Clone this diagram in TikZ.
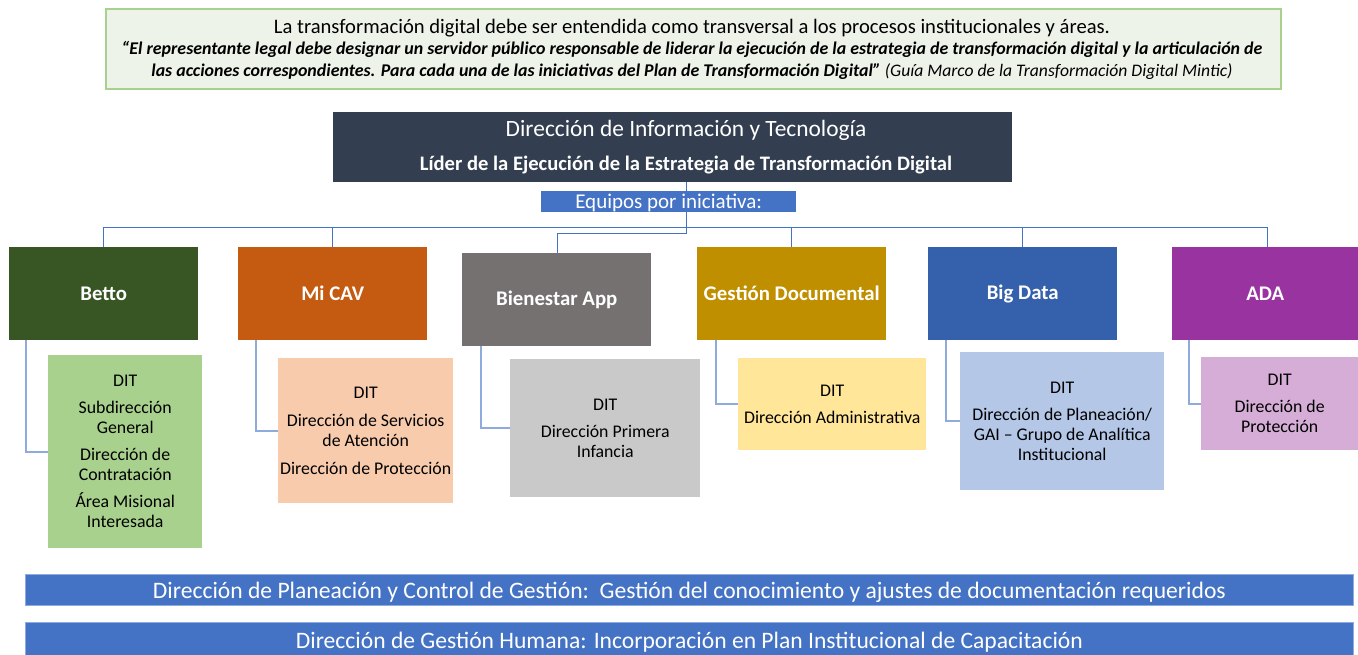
\documentclass[tikz,border=0pt]{standalone}
\usepackage{fontspec}
\setmainfont{Carlito}
\definecolor{linkblue}{HTML}{4472C4}
\definecolor{sublink}{HTML}{8FAADC}
\definecolor{topfill}{HTML}{EEF3EA}
\definecolor{topline}{HTML}{A9D18E}
\definecolor{headfill}{HTML}{333F50}
\definecolor{cBetto}{HTML}{375623}
\definecolor{cCav}{HTML}{C55A11}
\definecolor{cBien}{HTML}{767171}
\definecolor{cGest}{HTML}{BF8F00}
\definecolor{cBig}{HTML}{3560AB}
\definecolor{cAda}{HTML}{9933A0}
\definecolor{sBetto}{HTML}{A9D18E}
\definecolor{sCav}{HTML}{F8CBAD}
\definecolor{sBien}{HTML}{C9C9C9}
\definecolor{sGest}{HTML}{FFE699}
\definecolor{sBig}{HTML}{B4C7E7}
\definecolor{sAda}{HTML}{D5ADD6}
\tikzset{
  x=1pt, y=-1pt,
  initbox/.style={anchor=north west, inner sep=0pt, minimum width=189pt, minimum height=93pt,
     text=white, font=\fontsize{20.8}{23}\selectfont\bfseries, align=center},
  subbox/.style={anchor=north west, inner sep=1pt, align=center, text=black,
     font=\fontsize{17.8}{20}\selectfont},
  mainlink/.style={draw=linkblue, line width=1pt},
  sublinkst/.style={draw=sublink, line width=1.6pt},
  bar/.style={fill=linkblue, draw=sublink, line width=0.8pt, anchor=north west, minimum width=1328pt,
     inner sep=0pt, text height=19pt, text depth=1pt, text=white, font=\fontsize{23.6}{26}\selectfont}
}
\begin{document}
\begin{tikzpicture}
\useasboundingbox (0,0) rectangle (1358,654);
\fill[white] (0,0) rectangle (1358,654);

% top quote box
\node[anchor=north west, fill=topfill, draw=topline, line width=1.5pt, minimum width=1175pt,
      minimum height=80pt, inner sep=0pt] (quote) at (105,8) {};
\node[font=\fontsize{20.6}{22}\selectfont] (q1) at (692,28)
  {La transformación digital debe ser entendida como transversal a los procesos institucionales y áreas.};
\node[font=\fontsize{17.9}{22}\selectfont, align=center] (q2) at (692,60)
  {\bfseries\itshape “El representante legal debe designar un servidor público responsable de liderar la ejecución de la estrategia de transformación digital y la articulación de\\
   \bfseries\itshape las acciones correspondientes. Para cada una de las iniciativas del Plan de Transformación Digital” {\mdseries\fontsize{17.6}{22}\selectfont (Guía Marco de la Transformación Digital Mintic)}};

% header
\node[anchor=north west, fill=headfill, minimum width=679pt, minimum height=70pt, inner sep=0pt] (hd) at (333,112) {};
\node[text=white, font=\fontsize{23.4}{25}\selectfont] (hd1) at (686,130) {Dirección de Información y Tecnología};
\node[text=white, font=\fontsize{20.6}{22}\selectfont\bfseries] (hd2) at (686,165) {Líder de la Ejecución de la Estrategia de Transformación Digital};

% equipos
\node[anchor=north west, fill=linkblue, minimum width=255pt, minimum height=21pt, inner sep=0pt,
      text height=15pt, text depth=1pt,
      text=white, font=\fontsize{21}{23}\selectfont] (eq) at (541,191) {Equipos por iniciativa:};

% initiative boxes
\node[initbox, fill=cBetto] (b1) at (9,247) {Betto};
\node[initbox, fill=cCav] (b2) at (238,247) {Mi CAV};
\node[initbox, fill=cBien] (b3) at (462,253) {Bienestar App};
\node[initbox, fill=cGest] (b4) at (697,247) {Gestión Documental};
\node[initbox, fill=cBig] (b5) at (928,247) {Big Data};
\node[initbox, fill=cAda, minimum width=186pt] (b6) at (1172,247) {ADA};

% sub boxes
\node[subbox, fill=sBetto, minimum width=154pt, minimum height=193pt] (s1) at (48,355)
  {DIT\\[7pt]Subdirección\\General\\[7pt]Dirección de\\Contratación\\[7pt]Área Misional\\Interesada};
\node[subbox, fill=sCav, minimum width=175pt, minimum height=145pt] (s2) at (278,358)
  {DIT\\[8pt]Dirección de Servicios\\de Atención\\[8pt]Dirección de Protección};
\node[subbox, fill=sBien, minimum width=190pt, minimum height=138pt] (s3) at (510,359)
  {DIT\\[7pt]Dirección Primera\\Infancia};
\node[subbox, fill=sGest, minimum width=188pt, minimum height=92pt] (s4) at (738,358)
  {DIT\\[7pt]Dirección Administrativa};
\node[subbox, fill=sBig, minimum width=204pt, minimum height=138pt] (s5) at (960,352)
  {DIT\\[7pt]Dirección de Planeación/\\GAI – Grupo de Analítica\\Institucional};
\node[subbox, fill=sAda, minimum width=157pt, minimum height=93pt] (s6) at (1201,357)
  {DIT\\[7pt]Dirección de\\Protección};

% main connectors
\coordinate (stem) at (686,0);
\coordinate (busL) at (103,227);
\coordinate (busR) at (1267,227);
\coordinate (bien) at (557,233);
\draw[mainlink] (hd.south -| stem) -- (eq.north -| stem);
\draw[mainlink] (eq.south -| stem) -- (stem |- bien) -- (bien) -- (b3.north -| bien);
\draw[mainlink] (busL) -- (busR);
\draw[mainlink] (busL) -- (b1.north -| busL);
\draw[mainlink] (b2.north |- busL) -- (b2.north);
\draw[mainlink] (b4.north |- busL) -- (b4.north);
\draw[mainlink] (b5.north |- busL) -- (b5.north);
\draw[mainlink] (busR) -- (b6.north -| busR);

% sub connectors
\draw[sublinkst] ([xshift=17pt]b1.south west) |- (s1.west);
\draw[sublinkst] ([xshift=18pt]b2.south west) |- (s2.west);
\draw[sublinkst] ([xshift=19pt]b3.south west) |- (s3.west);
\draw[sublinkst] ([xshift=19pt]b4.south west) |- (s4.west);
\draw[sublinkst] ([xshift=18pt]b5.south west) |- (s5.west);
\draw[sublinkst] ([xshift=17pt]b6.south west) |- (s6.west);

% bottom bars
\node[bar, minimum height=31pt] (p1) at (25,574)
  {Dirección de Planeación y Control de Gestión:\ \ Gestión del conocimiento y ajustes de documentación requeridos};
\node[bar, minimum height=34pt] (p2) at (25,622)
  {Dirección de Gestión Humana: Incorporación en Plan Institucional de Capacitación};
\end{tikzpicture}
\end{document}
